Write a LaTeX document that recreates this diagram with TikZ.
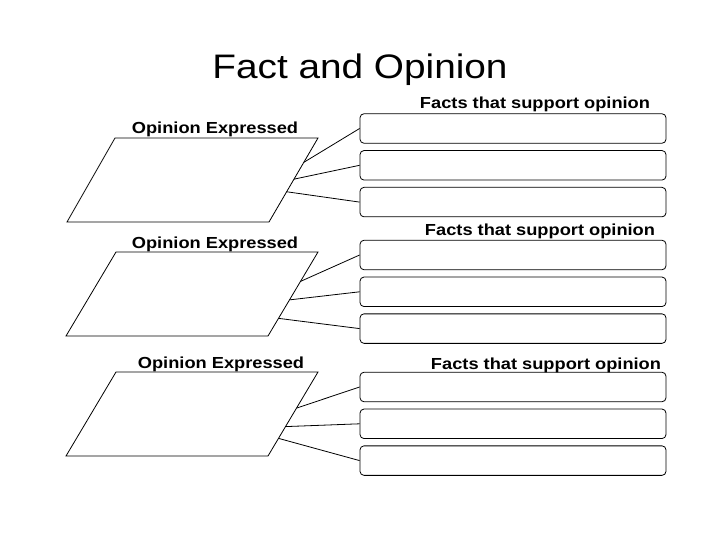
\documentclass[tikz,border=0pt]{standalone}
\usepackage{fontspec}
\usepackage{graphicx}
\setmainfont{Liberation Sans}
\usetikzlibrary{positioning,calc}
\newcommand{\widetext}[1]{\scalebox{1.14}[1]{#1}}
\begin{document}
\begin{tikzpicture}[x=1pt, y=-1pt, line width=0.8pt,
  factbox/.style={draw, rounded corners=4pt, minimum width=306pt, minimum height=29.5pt, inner sep=0pt},
  boxlabel/.style={anchor=base, font=\bfseries\fontsize{16}{19}\selectfont},
  node distance=6.5pt]
\useasboundingbox (0,0) rectangle (720,540);
\node[anchor=base, font=\fontsize{34}{40}\selectfont] (title) at (360,79) {\widetext{Fact and Opinion}};
% first group
\node[boxlabel] (op1label) at (215,134) {\widetext{Opinion Expressed}};
\coordinate (op1tl) at (115,138);
\coordinate (op1tr) at (318,138);
\coordinate (op1br) at (269,222);
\coordinate (op1bl) at (67,222);
\draw (op1tl) -- (op1tr) -- (op1br) -- (op1bl) -- cycle;
\node[boxlabel] (fact1label) at (535,109) {\widetext{Facts that support opinion}};
\node[factbox] (f11) at (513,128.5) {};
\node[factbox, below=of f11] (f12) {};
\node[factbox, below=of f12] (f13) {};
\coordinate (op1a) at ($(op1tr)!0.29!(op1br)$);
\coordinate (op1b) at ($(op1tr)!0.49!(op1br)$);
\coordinate (op1c) at ($(op1tr)!0.64!(op1br)$);
\draw (op1a) -- (f11.west);
\draw (op1b) -- (f12.west);
\draw (op1c) -- (f13.west);
% second group
\node[boxlabel] (op2label) at (215,248) {\widetext{Opinion Expressed}};
\coordinate (op2tl) at (116,252);
\coordinate (op2tr) at (318,252);
\coordinate (op2br) at (268,336);
\coordinate (op2bl) at (66,336);
\draw (op2tl) -- (op2tr) -- (op2br) -- (op2bl) -- cycle;
\node[boxlabel] (fact2label) at (540,236) {\widetext{Facts that support opinion}};
\node[factbox] (f21) at (513,255) {};
\node[factbox, below=of f21] (f22) {};
\node[factbox, below=of f22] (f23) {};
\coordinate (op2a) at ($(op2tr)!0.35!(op2br)$);
\coordinate (op2b) at ($(op2tr)!0.57!(op2br)$);
\coordinate (op2c) at ($(op2tr)!0.79!(op2br)$);
\draw (op2a) -- (f21.west);
\draw (op2b) -- (f22.west);
\draw (op2c) -- (f23.west);
% third group
\node[boxlabel] (op3label) at (221,368) {\widetext{Opinion Expressed}};
\coordinate (op3tl) at (116,372);
\coordinate (op3tr) at (318,372);
\coordinate (op3br) at (268,456);
\coordinate (op3bl) at (66,456);
\draw (op3tl) -- (op3tr) -- (op3br) -- (op3bl) -- cycle;
\node[boxlabel] (fact3label) at (546,369) {\widetext{Facts that support opinion}};
\node[factbox] (f31) at (513,387) {};
\node[factbox, below=of f31] (f32) {};
\node[factbox, below=of f32] (f33) {};
\coordinate (op3a) at ($(op3tr)!0.43!(op3br)$);
\coordinate (op3b) at ($(op3tr)!0.65!(op3br)$);
\coordinate (op3c) at ($(op3tr)!0.79!(op3br)$);
\draw (op3a) -- (f31.west);
\draw (op3b) -- (f32.west);
\draw (op3c) -- (f33.west);
\end{tikzpicture}
\end{document}
